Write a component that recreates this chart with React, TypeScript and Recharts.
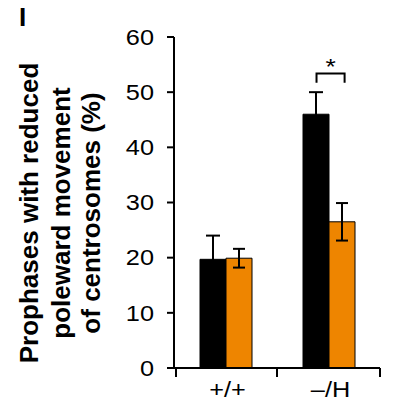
import React from 'react';
import { BarChart, Bar, XAxis, YAxis, ErrorBar, LabelList } from 'recharts';

const categories = ['+/+', '\u2013/H'];
const blackValues = [19.7, 46.0];
const blackErrors = [4.3, 4.0];
const orangeValues = [19.9, 26.5];
const orangeErrors = [1.7, 3.4];
const significance: (string | null)[] = [null, '*'];
const bracketTop = [null, 53.4];
const bracketLeg = [null, 51.7];
const yTicks = [0, 10, 20, 30, 40, 50, 60];
const yLabelLines = ['Prophases with reduced', 'poleward movement', 'of centrosomes (%)'];
const panelLabel = 'I';

const data = categories.map((c, i) => ({
  category: c,
  black: blackValues[i],
  blackErr: blackErrors[i],
  orange: orangeValues[i],
  orangeErr: orangeErrors[i],
  sig: significance[i],
  top: bracketTop[i],
  leg: bracketLeg[i],
}));

const FONT = 'Liberation Sans, Arial, sans-serif';
const ORANGE = '#EE8500';

const YTick = (props: any) => {
  const { x, y, payload } = props;
  return (
    <g transform={`translate(${x},${y})`}>
      <text x={0} y={0} dy="0.355em" textAnchor="end" fontSize={22} fontFamily={FONT} fill="#000" transform="scale(1.15,1)">
        {payload.value}
      </text>
    </g>
  );
};

const XTick = (props: any) => {
  const { x, y, payload, index, width, visibleTicksCount } = props;
  const bw = width / visibleTicksCount;
  return (
    <g>
      {index === 0 && <line x1={x - bw / 2 + 2} y1={y} x2={x - bw / 2 + 2} y2={y + 9} stroke="#000" strokeWidth={2} />}
      <line x1={x + bw / 2} y1={y} x2={x + bw / 2} y2={y + 9} stroke="#000" strokeWidth={2} />
      <g transform={`translate(${x + 2},${y + 29})`}>
        <text x={0} y={0} textAnchor="middle" fontSize={22} fontFamily={FONT} fill="#000" transform="scale(1.15,1)">
          {payload.value}
        </text>
      </g>
    </g>
  );
};

const YLabel = () => {
  const cx = 38;
  const cy = 213;
  return (
    <text
      x={cx}
      y={cy}
      textAnchor="middle"
      fontSize={26}
      fontWeight="bold"
      fontFamily={FONT}
      fill="#000"
      transform={`rotate(-90, ${cx}, ${cy})`}
    >
      <tspan x={cx} y={cy}>{yLabelLines[0]}</tspan>
      <tspan x={cx} dy={32}>{yLabelLines[1]}</tspan>
      <tspan x={cx} dy={30}>{yLabelLines[2]}</tspan>
    </text>
  );
};

const SigBracket = (props: any) => {
  const { x, y, width, height, value, index } = props;
  if (value == null) return null;
  const d = data[index];
  const ppu = height / d.black;
  const base = y + height;
  const yTop = base - (d.top as number) * ppu;
  const yLeg = base - (d.leg as number) * ppu;
  const xl = x + width * 0.52;
  const xr = x + width * 1.6;
  return (
    <g>
      <path d={`M${xl},${yLeg} L${xl},${yTop} L${xr},${yTop} L${xr},${yLeg}`} fill="none" stroke="#000" strokeWidth={2} />
      <g transform={`translate(${(xl + xr) / 2},${yTop + 1})`}>
        <text x={0} y={0} textAnchor="middle" fontSize={22} fontFamily={FONT} fill="#000" transform="scale(1.2,1)">
          {value}
        </text>
      </g>
    </g>
  );
};

export default function App() {
  return (
    <div style={{ position: 'absolute', left: 0, top: 0, width: 394, height: 404, background: '#fff' }}>
      <BarChart width={394} height={404} data={data} margin={{ top: 37, right: 14, bottom: 0, left: 0 }} barGap={0}>
        <XAxis
          dataKey="category"
          height={36}
          tickLine={false}
          tickSize={0}
          tickMargin={0}
          axisLine={{ stroke: '#000', strokeWidth: 2 }}
          tick={<XTick />}
          interval={0}
        />
        <YAxis
          width={174}
          domain={[0, 60]}
          ticks={yTicks}
          interval={0}
          tickSize={7}
          tickMargin={13}
          axisLine={{ stroke: '#000', strokeWidth: 2 }}
          tickLine={{ stroke: '#000', strokeWidth: 2 }}
          tick={<YTick />}
          label={<YLabel />}
        />
        <Bar dataKey="black" fill="#000" stroke="#000" strokeWidth={1} barSize={26} isAnimationActive={false}>
          <ErrorBar dataKey="blackErr" width={7} strokeWidth={2} stroke="#000" />
          <LabelList dataKey="sig" content={<SigBracket />} />
        </Bar>
        <Bar dataKey="orange" fill={ORANGE} stroke="#000" strokeWidth={1} barSize={26} isAnimationActive={false}>
          <ErrorBar dataKey="orangeErr" width={6} strokeWidth={2} stroke="#000" />
        </Bar>
      </BarChart>
      <div
        style={{
          position: 'absolute',
          left: 19,
          top: 2,
          fontFamily: FONT,
          fontWeight: 'bold',
          fontSize: 26,
          lineHeight: '30px',
          color: '#000',
        }}
      >
        {panelLabel}
      </div>
    </div>
  );
}
